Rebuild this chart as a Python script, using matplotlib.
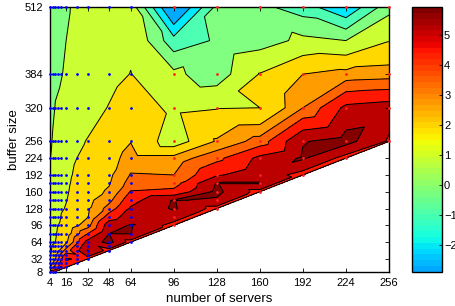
import numpy as np
import matplotlib
matplotlib.use("Agg")
import matplotlib.pyplot as plt
import matplotlib.tri as mtri
from matplotlib.colors import ListedColormap, Normalize
from matplotlib.cm import ScalarMappable

plt.rcParams['font.family'] = ['Liberation Sans', 'DejaVu Sans']

nan = np.nan

# sampled field, one list per number of servers, aligned with buffer_rows
buffer_rows = [8, 16, 32, 48, 64, 80, 96, 112, 128, 144, 160, 176, 192, 224, 256, 320, 384, 448, 512]
servers_cols = [4, 8, 16, 32, 48, 64, 96, 128, 160, 192, 224, 256]

z_s4 = [3.5, 2.0, 1.0, 0.85, 0.75, 0.68, 0.6, 0.55, 0.5, 0.42, 0.35, 0.28, 0.2, -0.05, -0.2, -0.45, -0.5, -0.5, -0.5]
z_s8 = [3.7, 3.0, 2.0, 1.4, 1.0, 0.92, 0.85, 0.8, 0.75, 0.7, 0.65, 0.6, 0.55, 0.45, 0.35, 0.05, -0.2, -0.3, -0.35]
z_s16 = [nan, 3.8, 4.3, 3.0, 1.85, 1.6, 1.4, 1.2, 1.05, 0.97, 0.9, 0.85, 0.8, 0.7, 0.6, 0.3, 0.1, 0.0, -0.1]
z_s32 = [nan, nan, 3.9, 5.05, 4.5, 3.4, 2.4, 1.97, 1.9, 1.8, 1.7, 1.6, 1.5, 1.3, 1.05, 0.6, 0.5, 0.45, 0.4]
z_s48 = [nan, nan, nan, 3.9, 5.25, 5.0, 4.7, 3.8, 3.0, 2.5, 2.1, 1.95, 1.85, 1.7, 1.5, 1.05, 0.7, 0.65, 0.5]
z_s64 = [nan] * 4 + [3.9, 5.02, 5.05, 4.6, 4.3, 3.9, 3.45, 3.0, 2.75, 2.3, 1.97, 1.5, 1.02, 0.85, 0.5]
z_s96 = [nan] * 6 + [3.9, 4.6, 5.1, 5.05, 3.6, 3.1, 2.7, 2.3, 0.4, 0.8, 0.2, -1.3, -3.6]
z_s128 = [nan] * 8 + [3.9, 4.9, 5.2, 5.05, 4.1, 3.2, 2.1, 0.95, -0.5, -0.7, -0.6]
z_s160 = [nan] * 10 + [3.9, 5.05, 4.7, 4.4, 3.0, 1.0, 1.05, -0.4, -0.6]
z_s192 = [nan] * 12 + [3.9, 5.1, 4.95, 2.7, 2.0, 0.2, -1.2]
z_s224 = [nan] * 13 + [3.9, 5.3, 4.4, 2.3, 0.0, -2.35]
z_s256 = [nan] * 14 + [4.1, 4.6, 2.4, 0.95, -0.3]

# measurement points shown as dots
blue_x = [4, 6, 8, 10, 12, 16, 24, 32, 48, 64]
blue_y = [8, 16, 24, 32, 40, 48, 56, 64, 80, 96, 112, 128, 144, 160, 176, 192, 224, 256, 320, 384, 512]
red_x = [96, 128, 160, 192, 224, 256]
red_y = [96, 112, 128, 144, 160, 176, 192, 224, 256, 320, 384, 512]

levels = [-9, -2.4, -1.6, -0.8, 0.0, 1.0, 2.0, 2.7, 3.4, 4.2, 5.0, 9]
band_colors = ['#00aaff', '#00eaff', '#4dffb3', '#80ff80', '#ccff33', '#ffd800',
               '#ff9c00', '#ff6400', '#ff1800', '#bc0000', '#840000']

xticks = [4, 16, 32, 48, 64, 96, 128, 160, 192, 224, 256]
yticks = [8, 32, 64, 96, 128, 160, 192, 224, 256, 320, 384, 512]
cticks = [-2, -1, 0, 1, 2, 3, 4, 5]

Z = np.array([z_s4, z_s8, z_s16, z_s32, z_s48, z_s64, z_s96,
              z_s128, z_s160, z_s192, z_s224, z_s256]).T
XX, YY = np.meshgrid(servers_cols, buffer_rows)
ok = ~np.isnan(Z)
tri = mtri.Triangulation(XX[ok], YY[ok])

fig = plt.figure(figsize=(4.56, 3.06), dpi=100, facecolor='white')
ax = fig.add_axes([0.1096, 0.1127, 0.7434, 0.8644])

ax.tricontourf(tri, Z[ok], levels=levels, colors=band_colors)
ax.tricontour(tri, Z[ok], levels=levels[1:-1], colors='k', linewidths=0.7,
              linestyles='solid')
ax.plot([8, 256], [8, 256], color='k', lw=0.8)

bx, by = np.meshgrid(blue_x, blue_y)
m = by >= bx
ax.scatter(bx[m], by[m], s=4, color='#0000ff', linewidths=0, zorder=5, clip_on=False)
rx, ry = np.meshgrid(red_x, red_y)
m = ry >= rx
ax.scatter(rx[m], ry[m], s=4, color='#ff2020', linewidths=0, zorder=5, clip_on=False)

ax.set_xlim(4, 256)
ax.set_ylim(8, 512)
ax.set_xticks(xticks)
ax.set_yticks(yticks)
ax.tick_params(direction='in', length=3, width=0.6, labelsize=8, top=True, right=True, pad=5)
ax.set_xlabel('number of servers', fontsize=9.5, labelpad=3)
ax.set_ylabel('buffer size', fontsize=9.5, labelpad=3)
for s in ax.spines.values():
    s.set_linewidth(1.0)

jet = plt.get_cmap('jet')
cmap = ListedColormap(jet(np.linspace(0.29, 1.0, 46)))
cax = fig.add_axes([0.9035, 0.112, 0.0658, 0.864])
cb = fig.colorbar(ScalarMappable(norm=Normalize(-2.89, 5.94), cmap=cmap), cax=cax)
cb.set_ticks(cticks)
cb.ax.tick_params(direction='in', length=2.5, width=0.6, labelsize=8, pad=1.5)
cb.outline.set_linewidth(1.0)

fig.savefig('out.png', dpi=100, facecolor='white')
